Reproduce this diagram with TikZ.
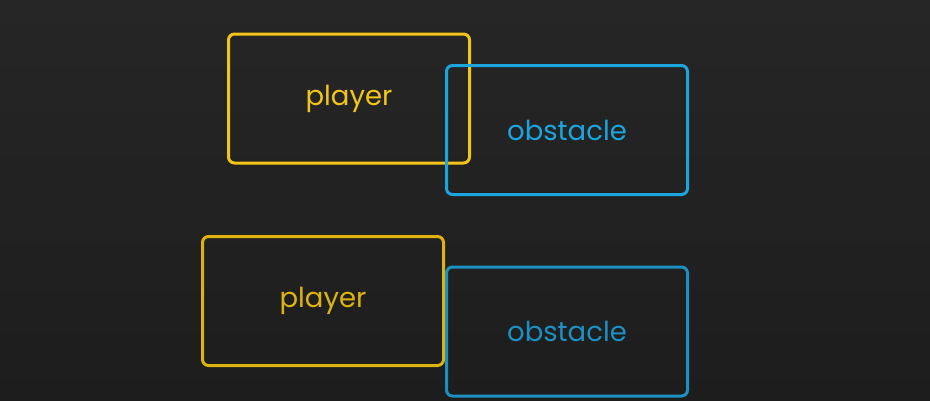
\documentclass[tikz,border=0pt]{standalone}
\usepackage{fontspec}
\setmainfont{Poppins}
\usepackage{tikz}
\usetikzlibrary{positioning}
\definecolor{bgtop}{HTML}{262626}
\definecolor{bgbot}{HTML}{1D1D1D}
\definecolor{playeryel}{HTML}{F2C618}
\definecolor{playerdim}{HTML}{DDB40E}
\definecolor{obstblue}{HTML}{1BA5DE}
\definecolor{obstdim}{HTML}{1C90C2}
\tikzset{
  hitbox/.style={draw,rectangle,rounded corners=6pt,line width=3pt,
    minimum width=241pt,minimum height=129pt,inner sep=0pt,
    font=\fontsize{27.5}{32}\selectfont}
}
\begin{document}
\begin{tikzpicture}[x=1pt,y=-1pt]
% Nền tối
\shade[top color=bgtop,bottom color=bgbot] (0,0) rectangle (930,400);
\useasboundingbox (0,0) rectangle (930,400);
% Hai hộp chồng lên nhau
\node[hitbox,color=playeryel] (player1) at (349,98.5) {player};
\node[hitbox,color=obstblue] (obstacle1) at (567,130) {obstacle};
% Hai hộp chỉ chạm nhau
\node[hitbox,color=playerdim] (player2) at (323,301) {player};
\node[hitbox,color=obstdim] (obstacle2) at (567,331.5) {obstacle};
\end{tikzpicture}
\end{document}
